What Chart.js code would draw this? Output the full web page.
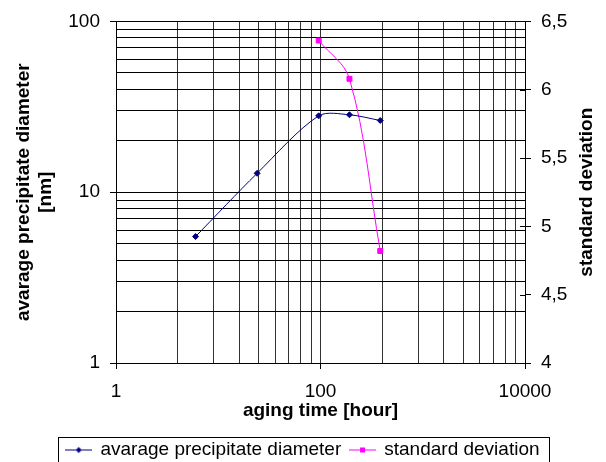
<!DOCTYPE html>
<html lang="en">
<head>
  <meta charset="UTF-8">
  <title>Precipitate diameter vs aging time</title>
  <script src="https://cdn.jsdelivr.net/npm/chart.js"></script>
  <style>
    body {
      margin: 0;
      padding: 0;
      background: #fff;
    }
    .chart-box {
      width: 606px;
      height: 462px;
      position: relative;
    }
  </style>
</head>
<body>
  <div class="chart-box">
    <canvas id="agingChart"></canvas>
  </div>

  <script>
    // data
    const agingTime = [6, 24, 96, 192, 384];
    const diameter = [5.5, 12.9, 28.0, 28.4, 26.3];
    const sdTime = [96, 192, 384];
    const stdDev = [6.36, 6.08, 4.82];

    // axis ticks (gridlines) and the labelled ones
    const xGrid = [1, 4, 9, 16, 25, 36, 49, 64, 81, 100, 400, 900, 1600, 2500, 3600, 4900, 6400, 8100, 10000];
    const xLabels = [1, 100, 10000];
    const yGrid = [1, 2, 3, 4, 5, 6, 7, 8, 9, 10, 20, 30, 40, 50, 60, 70, 80, 90, 100];
    const yLabels = [1, 10, 100];

    const FONT = "'Liberation Sans', Arial, sans-serif";
    const NAVY = '#000080';
    const PINK = '#ff00ff';

    // small line + marker images for the legend
    function legendGlyph(color, shape) {
      const c = document.createElement('canvas');
      c.width = 27;
      c.height = 9;
      const g = c.getContext('2d');
      g.strokeStyle = color;
      g.fillStyle = color;
      g.lineWidth = 1;
      g.beginPath();
      g.moveTo(0, 4.5);
      g.lineTo(27, 4.5);
      g.stroke();
      g.beginPath();
      if (shape === 'diamond') {
        g.moveTo(13.5, 1.5);
        g.lineTo(16.5, 4.5);
        g.lineTo(13.5, 7.5);
        g.lineTo(10.5, 4.5);
        g.closePath();
      } else {
        g.rect(11, 2, 5, 5);
      }
      g.fill();
      return c;
    }

    const extras = {
      id: 'extras',
      afterLayout(chart) {
        // push the legend row a bit lower, like the original
        chart.legend.top += 7.5;
        chart.legend.bottom += 7.5;
      },
      afterDraw(chart) {
        const ctx = chart.ctx;
        const area = chart.chartArea;
        const y1 = chart.scales.y1;

        // inner half of the right axis tick marks
        ctx.save();
        ctx.strokeStyle = '#000';
        ctx.lineWidth = 1;
        y1.ticks.forEach(t => {
          const py = Math.round(y1.getPixelForValue(t.value)) + 0.5;
          ctx.beginPath();
          ctx.moveTo(area.right - 5, py);
          ctx.lineTo(area.right, py);
          ctx.stroke();
        });

        // right axis title, reading bottom to top
        ctx.translate(587, (area.top + area.bottom) / 2);
        ctx.rotate(-Math.PI / 2);
        ctx.fillStyle = '#000';
        ctx.font = 'bold 19px ' + FONT;
        ctx.textAlign = 'center';
        ctx.textBaseline = 'middle';
        ctx.fillText('standard deviation', 0, 0);
        ctx.restore();

        // frame around the legend
        const boxes = chart.legend.legendHitBoxes;
        if (boxes && boxes.length) {
          const first = boxes[0];
          const last = boxes[boxes.length - 1];
          ctx.save();
          ctx.strokeStyle = '#000';
          ctx.lineWidth = 1;
          const l = Math.round(first.left - 8) + 0.5;
          const r = Math.round(last.left + last.width + 9) + 0.5;
          const t = Math.round(first.top - 4) + 0.5;
          ctx.strokeRect(l, t, r - l, 40);
          ctx.restore();
        }
      }
    };

    const ctx = document.getElementById('agingChart').getContext('2d');
    const agingChart = new Chart(ctx, {
      type: 'line',
      data: {
        datasets: [{
          label: 'avarage precipitate diameter',
          data: agingTime.map((t, i) => ({ x: t, y: diameter[i] })),
          yAxisID: 'y',
          borderColor: NAVY,
          backgroundColor: NAVY,
          borderWidth: 1,
          pointStyle: 'rectRot',
          pointRadius: 3,
          pointBorderWidth: 1,
          tension: 0.3,
          fill: false
        }, {
          label: 'standard deviation',
          data: sdTime.map((t, i) => ({ x: t, y: stdDev[i] })),
          yAxisID: 'y1',
          borderColor: PINK,
          backgroundColor: PINK,
          borderWidth: 1,
          pointStyle: 'rect',
          pointRadius: 3.5,
          pointBorderWidth: 1,
          tension: 0.35,
          fill: false
        }]
      },
      options: {
        responsive: true,
        maintainAspectRatio: false,
        animation: false,
        layout: {
          padding: { top: 19, left: 0, right: 0, bottom: 0 }
        },
        plugins: {
          tooltip: { enabled: false },
          legend: {
            position: 'bottom',
            align: 'center',
            labels: {
              color: '#000',
              font: { family: FONT, size: 19 },
              usePointStyle: true,
              pointStyleWidth: 24.5,
              padding: 9,
              generateLabels(chart) {
                return [
                  { text: 'avarage precipitate diameter', pointStyle: legendGlyph(NAVY, 'diamond'), datasetIndex: 0, fontColor: '#000', lineWidth: 0 },
                  { text: 'standard deviation', pointStyle: legendGlyph(PINK, 'square'), datasetIndex: 1, fontColor: '#000', lineWidth: 0 }
                ];
              }
            }
          }
        },
        scales: {
          x: {
            type: 'logarithmic',
            min: 1,
            max: 10000,
            afterBuildTicks: scale => {
              scale.ticks = xGrid.map(v => ({ value: v }));
            },
            afterFit: scale => {
              scale.height = 61;
            },
            ticks: {
              autoSkip: false,
              maxRotation: 0,
              padding: 11,
              color: '#000',
              font: { family: FONT, size: 19 },
              callback: v => xLabels.includes(v) ? String(v) : ''
            },
            grid: {
              color: '#333',
              lineWidth: 1,
              tickLength: 6,
              tickColor: c => (c.tick && xLabels.includes(c.tick.value)) ? '#000' : 'rgba(0,0,0,0)'
            },
            border: { color: '#000', width: 1 },
            title: {
              display: true,
              text: 'aging time [hour]',
              color: '#000',
              font: { family: FONT, size: 19, weight: 'bold' },
              padding: { top: 0, bottom: 2 }
            }
          },
          y: {
            type: 'logarithmic',
            position: 'left',
            min: 1,
            max: 100,
            afterBuildTicks: scale => {
              scale.ticks = yGrid.map(v => ({ value: v }));
            },
            afterFit: scale => {
              scale.width = 116;
            },
            ticks: {
              autoSkip: false,
              padding: 10,
              color: '#000',
              font: { family: FONT, size: 19 },
              callback: v => yLabels.includes(v) ? String(v) : ''
            },
            grid: {
              color: '#000',
              lineWidth: 1,
              tickLength: 6,
              tickColor: c => (c.tick && yLabels.includes(c.tick.value)) ? '#000' : 'rgba(0,0,0,0)'
            },
            border: { color: '#000', width: 1 },
            title: {
              display: true,
              text: ['avarage precipitate diameter', '[nm]'],
              color: '#000',
              font: { family: FONT, size: 19, weight: 'bold' },
              padding: { top: 12, bottom: 0 }
            }
          },
          y1: {
            type: 'linear',
            position: 'right',
            min: 4,
            max: 6.5,
            afterFit: scale => {
              scale.width = 81;
            },
            ticks: {
              stepSize: 0.5,
              padding: 10,
              color: '#000',
              font: { family: FONT, size: 19 },
              callback: v => String(v).replace('.', ',')
            },
            grid: {
              drawOnChartArea: false,
              color: '#000',
              tickLength: 6
            },
            border: { color: '#000', width: 1 }
          }
        }
      },
      plugins: [extras]
    });
  </script>
</body>
</html>
